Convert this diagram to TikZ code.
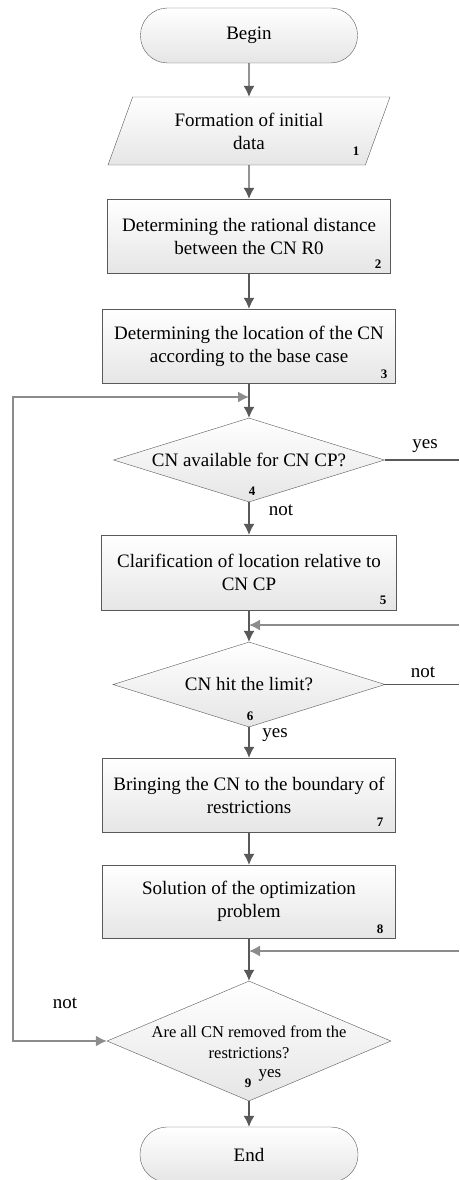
\documentclass[tikz,border=0pt]{standalone}
\usepackage{fontspec}
\setmainfont{Liberation Serif}
\usetikzlibrary{arrows.meta}
\usetikzlibrary{shapes.geometric}
\usetikzlibrary{positioning}
\tikzset{every node/.append style={font=\fontsize{19}{23}\selectfont}}

\begin{document}
\begin{tikzpicture}[x=1pt, y=-1pt, >={Latex[length=11pt,width=11pt]},
  block/.style={rectangle, draw=black!65, top color=white, bottom color=black!10,
    align=center, inner sep=0pt, minimum width=293pt, minimum height=74pt},
  term/.style={block, rounded corners=27pt, minimum width=217pt, minimum height=55pt},
  iodata/.style={block, trapezium, trapezium left angle=56, trapezium right angle=124,
    trapezium stretches body, minimum width=282pt, minimum height=68pt},
  decide/.style={block, diamond, minimum width=271pt, minimum height=84pt},
  qtext/.style={align=center, inner sep=0pt},
  num/.style={font=\bfseries\fontsize{13}{13}\selectfont, inner sep=0pt},
  lbl/.style={inner sep=0pt},
  flow/.style={draw=black!65, line width=1.1pt},
  back/.style={draw=black!45, line width=1.6pt}]
\useasboundingbox (0,0) rectangle (459,1180);

\node[term] (begin) at (249,35.5) {Begin};
\node[iodata] (p1) at (249,131) {Formation of initial\\data};
\node[block, minimum width=283pt] (b2) at (249,236) {Determining the rational distance\\between the CN R0};
\node[block] (b3) at (249,346) {Determining the location of the CN\\according to the base case};
\node[decide] (d4) at (249,460) {};
\node[qtext] (q4) at (d4.center) {CN available for CN CP?};
\node[block, minimum width=295pt, minimum height=75pt] (b5) at (249,572.5) {Clarification of location relative to\\CN CP};
\node[decide, minimum width=272pt, minimum height=85pt] (d6) at (249,684.5) {};
\node[qtext] (q6) at (d6.center) {CN hit the limit?};
\node[block] (b7) at (249,795) {Bringing the CN to the boundary of\\restrictions};
\node[block, minimum height=73pt] (b8) at (249,901.5) {Solution of the optimization\\problem};
\node[decide, minimum width=284pt, minimum height=120pt] (d9) at (249,1041) {};
\node[qtext, font=\fontsize{16.5}{21}\selectfont] (q9) at (249,1042) {Are all CN removed from the\\restrictions?};
\node[term, minimum width=218pt] (end) at (249,1154.5) {End};

% block numbers
\node[num] (k1) at (356,151) {1};
\node[num] (k2) at (378,264) {2};
\node[num] (k3) at (384,374) {3};
\node[num] (k4) at (252,491) {4};
\node[num] (k5) at (383,600) {5};
\node[num] (k6) at (250,716) {6};
\node[num] (k7) at (380,822) {7};
\node[num] (k8) at (380,929) {8};
\node[num] (k9) at (248,1083) {9};

% branch labels
\node[lbl] (yes4) at (425,446) {yes};
\node[lbl] (not4) at (281,510) {not};
\node[lbl] (not6) at (423,672) {not};
\node[lbl] (yes6) at (275,735) {yes};
\node[lbl] (not9) at (65,1003) {not};
\node[lbl, font=\fontsize{17}{17}\selectfont] (yes9) at (270,1075) {yes};

\coordinate (j1) at (249,397);
\coordinate (j2) at (249,625);
\coordinate (j3) at (249,951);
\coordinate (c1) at (13,397);
\coordinate (r1) at (459,460);
\coordinate (r2) at (459,625);
\coordinate (r3) at (459,684.5);
\coordinate (r4) at (459,951);

\draw[flow, ->] (begin) -- (p1);
\draw[flow, ->] (p1) -- (b2);
\draw[flow, ->] (b2) -- (b3);
\draw[flow, ->] (b3) -- (d4);
\draw[flow, ->] (d4) -- (b5);
\draw[flow, ->] (b5) -- (d6);
\draw[flow, ->] (d6) -- (b7);
\draw[flow, ->] (b7) -- (b8);
\draw[flow, ->] (b8) -- (d9);
\draw[flow, ->] (d9) -- (end);
\draw[flow] (d4.east) -- (r1);
\draw[flow] (d6.east) -- (r3);
\draw[back, ->] (r2) -- (j2);
\draw[back, ->] (r4) -- (j3);
\draw[back, <->] (d9.west) -| (c1) -- (j1);

\end{tikzpicture}
\end{document}
